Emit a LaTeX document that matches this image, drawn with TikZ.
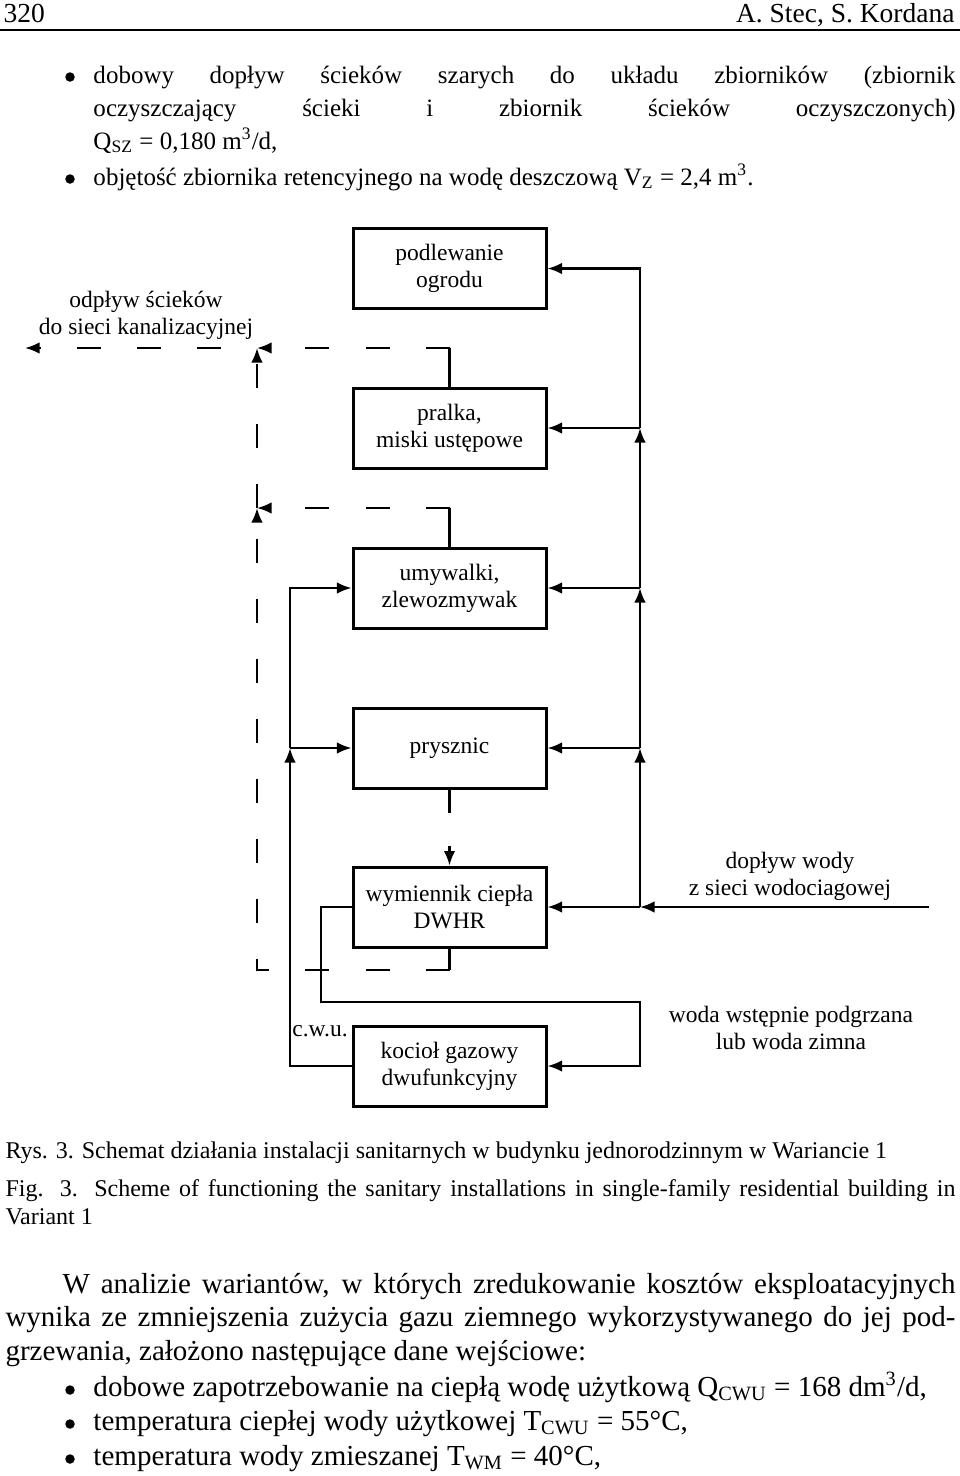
\documentclass[tikz,border=0pt]{standalone}
\usepackage{fontspec}
\setmainfont{Liberation Serif}
\usepackage{tikz}
\usetikzlibrary{positioning}
\usetikzlibrary{arrows.meta}

\tikzset{
 unit/.style={draw,line width=1.2pt,minimum width=77.2pt,minimum height=32pt,align=center,inner sep=0pt,font=\fontsize{9.4pt}{10.8pt}\selectfont},
 lbl/.style={align=center,inner sep=0pt,font=\fontsize{9.4pt}{10.8pt}\selectfont},
 tip/.style={-{Latex[length=5.8pt,width=4.6pt]}},
 pipe/.style={line width=0.9pt,tip},
 plain/.style={line width=0.9pt},
 drain/.style={line width=0.9pt,dash pattern=on 9.6pt off 14.4pt},
 txt/.style={anchor=base west,inner sep=0pt,font=\fontsize{10pt}{12pt}\selectfont},
 captxt/.style={anchor=base west,inner sep=0pt,font=\fontsize{9.6pt}{12pt}\selectfont},
 body/.style={anchor=base west,inner sep=0pt,font=\fontsize{11.6pt}{14pt}\selectfont},
 dot/.style={circle,fill=black,inner sep=0pt,minimum size=3.8pt}
}

\begin{document}
\begin{tikzpicture}[x=0.4pt,y=-0.4pt]
 \path[fill=white,use as bounding box] (0,0) rectangle (960,1476);

 \node[anchor=base west,inner sep=0pt,font=\fontsize{11pt}{13pt}\selectfont] (page) at (3,22) {320};
 \node[anchor=base east,inner sep=0pt,font=\fontsize{11pt}{13pt}\selectfont] (auth) at (955,22) {A. Stec, S. Kordana};
 \draw[line width=0.8pt] (0,30) -- (960,30);

 \node[dot] (b1) at (70,77) {};
 \node[txt] (t1) at (93,83) {\makebox[344.8pt][s]{dobowy dopływ ścieków szarych do układu zbiorników (zbiornik}};
 \node[txt] (t2) at (93,116) {\makebox[344.8pt][s]{oczyszczający ścieki i zbiornik ścieków oczyszczonych)}};
 \node[txt] (t3) at (93,149) {Q\textsubscript{SZ} = 0,180 m\textsuperscript{3}/d,};
 \node[dot] (b2) at (70,179) {};
 \node[txt] (t4) at (93,185) {objętość zbiornika retencyjnego na wodę deszczową V\textsubscript{Z} = 2,4 m\textsuperscript{3}.};

 \node[unit] (ogrod) at (449.5,268.5) {podlewanie\\ogrodu};
 \node[unit] (pralka) at (449.5,428) {pralka,\\miski ustępowe};
 \node[unit] (umyw) at (449.5,588) {umywalki,\\zlewozmywak};
 \node[unit] (prysz) at (449.5,748) {prysznic};
 \node[unit] (dwhr) at (449.5,907) {wymiennik ciepła\\DWHR};
 \node[unit] (kociol) at (449.5,1066) {kocioł gazowy\\dwufunkcyjny};

 \node[lbl] (odplyw) at (146,315) {odpływ ścieków\\do sieci kanalizacyjnej};
 \node[lbl] (doplyw) at (790,876) {dopływ wody\\z sieci wodociagowej};
 \node[lbl] (wstep) at (791,1028) {woda wstępnie podgrzana\\lub woda zimna};
 \node[lbl] (cwu) at (320,1031) {c.w.u.};

 \coordinate (sup) at (929,907);
 \coordinate (w0) at (640,907);
 \coordinate (w1) at (640,748);
 \coordinate (w2) at (640,588);
 \coordinate (w3) at (640,428);
 \draw[pipe] (sup) -- (w0);
 \draw[pipe] (w0) -- (dwhr.east);
 \draw[pipe] (w0) -- (w1);
 \draw[pipe] (w1) -- (prysz.east);
 \draw[pipe] (w1) -- (w2);
 \draw[pipe] (w2) -- (umyw.east);
 \draw[pipe] (w2) -- (w3);
 \draw[pipe] (w3) -- (pralka.east);
 \draw[pipe] (w3) |- (ogrod.east);

 \coordinate (h1) at (290,748);
 \draw[pipe] (kociol.west) -| (h1);
 \draw[pipe] (h1) -- (prysz.west);
 \draw[pipe] (h1) |- (umyw.west);

 \coordinate (pre1) at (321,1002);
 \coordinate (pre2) at (640,1002);
 \draw[pipe] (dwhr.west) -| (pre1) -- (pre2) |- (kociol.east);

 \coordinate (dp) at (449.5,348);
 \coordinate (du) at (449.5,508);
 \coordinate (dd) at (449.5,970);
 \coordinate (d0) at (257,348);
 \coordinate (d1) at (257,508);
 \coordinate (d2) at (257,970);
 \coordinate (dout) at (25,348);
 \draw[plain] (pralka.north) -- (dp);
 \draw[plain] (umyw.north) -- (du);
 \draw[plain] (dwhr.south) -- (dd);
 \draw[drain,tip] (dp) -- (d0);
 \draw[drain,tip] (du) -- (d1);
 \draw[drain,tip] (dd) -- (d2) -- (d1);
 \draw[drain,tip] (d1) -- (d0);
 \draw[drain,dash phase=9.6pt,tip] (d0) -- (dout);
 \draw[line width=0.9pt,dash pattern=on 9.2pt off 13.2pt,tip] (prysz.south) -- (dwhr.north);

 \node[captxt] (rys) at (5,1158) {Rys. 3. Schemat działania instalacji sanitarnych w budynku jednorodzinnym w Wariancie 1};
 \node[captxt] (fig) at (5,1196) {\makebox[380pt][s]{Fig. 3. Scheme of functioning the sanitary installations in single-family residential building in}};
 \node[captxt] (var) at (5,1224) {Variant 1};

 \node[body] (p1) at (62,1293) {\makebox[357.2pt][s]{W analizie wariantów, w których zredukowanie kosztów eksploatacyjnych}};
 \node[body] (p2) at (5,1326) {\makebox[380pt][s]{wynika ze zmniejszenia zużycia gazu ziemnego wykorzystywanego do jej pod-}};
 \node[body] (p3) at (5,1360) {grzewania, założono następujące dane wejściowe:};
 \node[dot] (b3) at (70,1390) {};
 \node[body] (q1) at (93,1396) {dobowe zapotrzebowanie na ciepłą wodę użytkową Q\textsubscript{CWU} = 168 dm\textsuperscript{3}/d,};
 \node[dot] (b4) at (70,1424) {};
 \node[body] (q2) at (93,1430) {temperatura ciepłej wody użytkowej T\textsubscript{CWU} = 55°C,};
 \node[dot] (b5) at (70,1459) {};
 \node[body] (q3) at (93,1465) {temperatura wody zmieszanej T\textsubscript{WM} = 40°C,};
\end{tikzpicture}
\end{document}
